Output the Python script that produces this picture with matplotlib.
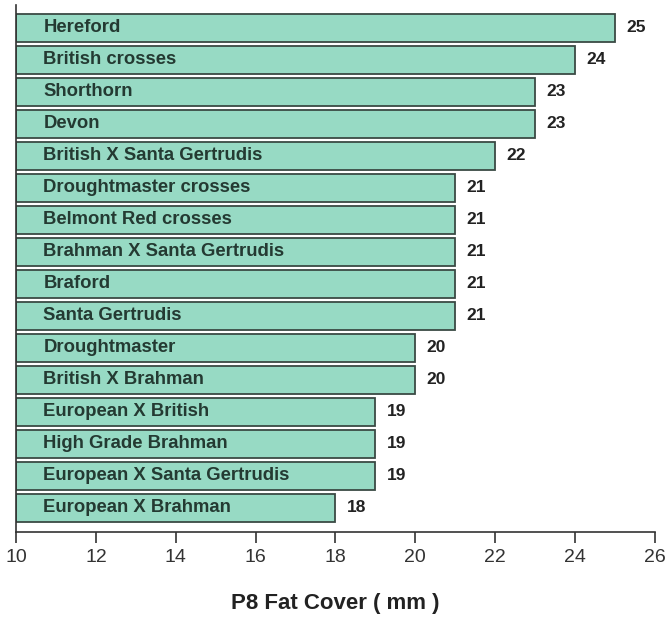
import matplotlib
matplotlib.use("Agg")
import matplotlib.pyplot as plt

plt.rcParams['font.family'] = ['Liberation Sans', 'DejaVu Sans']

breeds = [
    "Hereford", "British crosses", "Shorthorn", "Devon",
    "British X Santa Gertrudis", "Droughtmaster crosses",
    "Belmont Red crosses", "Brahman X Santa Gertrudis", "Braford",
    "Santa Gertrudis", "Droughtmaster", "British X Brahman",
    "European X British", "High Grade Brahman",
    "European X Santa Gertrudis", "European X Brahman",
]
fat_mm = [25, 24, 23, 23, 22, 21, 21, 21, 21, 21, 20, 20, 19, 19, 19, 18]
x_ticks = [10, 12, 14, 16, 18, 20, 22, 24, 26]

base = 10
fig = plt.figure(figsize=(6.71, 6.2), dpi=100)
ax = fig.add_axes([0.024, 0.142, 0.952, 0.85])

n = len(breeds)
ypos = list(range(n - 1, -1, -1))
widths = [v - base for v in fat_mm]
ax.barh(ypos, widths, left=base, height=0.85, color="#97dac4",
        edgecolor="#3a4a44", linewidth=1.3, zorder=2)

for y, name, v in zip(ypos, breeds, fat_mm):
    ax.text(base + 0.68, y, name, va="center", ha="left", fontsize=13.3,
            fontweight="bold", color="#243a32", zorder=3)
    ax.text(v + 0.28, y, str(v), va="center", ha="left", fontsize=12.5,
            fontweight="bold", color="#222222")

ax.set_xlim(10, 26)
ax.set_ylim(-0.75, n - 1 + 0.72)
ax.set_xticks(x_ticks)
ax.set_xticklabels([str(t) for t in x_ticks], fontsize=14, color="#333333")
ax.set_yticks([])
ax.tick_params(axis="x", direction="out", length=8, width=1.2, pad=4,
               color="#333333")
for s in ("top", "right"):
    ax.spines[s].set_visible(False)
ax.spines["left"].set_color("#333333")
ax.spines["bottom"].set_color("#333333")
ax.spines["left"].set_linewidth(1.2)
ax.spines["bottom"].set_linewidth(1.2)

ax.set_xlabel("P8 Fat Cover ( mm )", fontsize=16, fontweight="bold",
              color="#222222", labelpad=20)

fig.savefig("out.png", dpi=100, facecolor="white")
